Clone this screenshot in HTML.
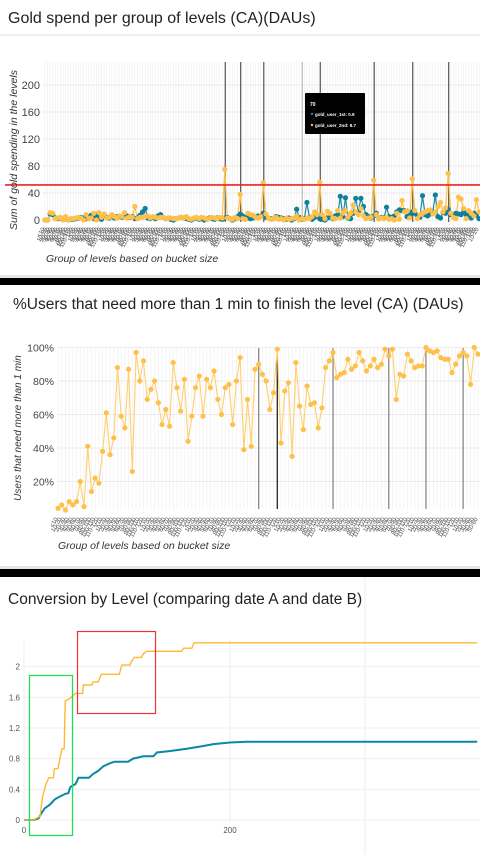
<!DOCTYPE html>
<html><head><meta charset="utf-8"><style>
html,body{margin:0;padding:0;background:#000;}
svg{display:block;font-family:"Liberation Sans",sans-serif;}
</style></head><body>
<svg id="root" width="480" height="854" viewBox="0 0 480 854">
  <!-- panel backgrounds -->
  <rect x="0" y="0" width="480" height="277" fill="#fff"/>
  <rect x="0" y="275" width="480" height="3" fill="#e6e6e6"/>
  <rect x="0" y="285" width="480" height="283" fill="#fff"/>
  <rect x="0" y="566" width="480" height="3" fill="#e6e6e6"/>
  <rect x="0" y="577" width="480" height="277" fill="#fff"/>
  <line x1="0" y1="35" x2="480" y2="35" stroke="#eee" stroke-width="2"/>
  <line x1="365" y1="577" x2="365" y2="854" stroke="#eee" stroke-width="1"/>

  <text x="8" y="23" font-size="16" fill="#222">Gold spend per group of levels (CA)(DAUs)</text>
  <text x="13" y="309" font-size="15.5" fill="#222">%Users that need more than 1 min to finish the level (CA) (DAUs)</text>
  <text x="8" y="604" font-size="15.5" fill="#222">Conversion by Level (comparing date A and date B)</text>

  <g id="c1"></g>
  <g id="c2"></g>
  <g id="c3"></g>
</svg>
<script>
const NS="http://www.w3.org/2000/svg";
// ---------- Chart 1 data ----------
const goldYTicks=[0,40,80,120,160,200];
const goldUser2nd=[0,0,11,10,2,3,4,0,5,0,2,2,3,4,3,0,8,2,3,10,
0,11,4,9,3,4,8,5,3,6,5,11,3,5,4,20,2,4,4,5,
6,3,5,4,3,4,4,2,3,3,2,2,3,4,3,5,2,1,3,4,
2,4,3,1,2,4,3,2,4,3,
75,3,2,1,4,2,38,2,1,10,8,7,4,3,5,55,
9,3,1,2,4,1,2,0,3,1,2,3,6,0,2,1,3,2,5,12,8,
56,8,2,13,10,3,2,14,3,10,14,4,10,22,12,8,17,6,2,3,4,
59,8,2,3,2,4,1,2,0,10,1,29,12,14,3,
61,14,2,8,10,12,14,15,9,12,20,26,12,18,
69,10,4,2,34,31,17,2,14,10,6,30,12];
const goldUser1st=[0,0,9,8,3,2,3,1,2,0,1,1,2,3,4,3,2,5,7,2,
8,3,1,6,4,3,7,3,5,5,4,8,6,4,5,2,3,7,12,17,
3,2,4,2,6,8,4,2,3,1,0,2,3,4,3,2,1,0,2,3,
1,2,0,1,3,2,1,3,2,1,3,4,2,0,2,5,9,6,4,3,
2,3,4,6,5,10,4,3,2,2,5,4,3,2,1,3,0,2,16,4,
1,2,26,3,1,4,6,2,1,0,3,4,2,6,8,35,5,33,3,2,
10,32,12,32,20,8,5,3,6,10,2,4,3,19,5,4,6,12,15,14,
14,5,7,12,10,6,4,36,8,6,9,12,37,5,3,11,10,16,8,6,
10,9,8,12,8,6,3,10,7,2];
const goldThreshold=[52];
const goldMarkers=[70,76,85,100,107,128,143,157];
// ---------- Chart 2 data ----------
const pctYTicks=[20,40,60,80,100];
const pctUsers=[4,6,3,8,6,8,20,5,41,14,22,19,38,61,36,46,88,59,52,87,
26,97,80,92,69,75,80,67,54,63,53,91,76,62,81,44,59,76,83,59,
81,76,86,69,60,76,78,54,80,94,39,69,41,87,90,84,80,63,73,99,
43,74,79,35,91,65,51,77,66,67,52,64,88,92,97,82,84,85,93,87,
89,97,92,86,89,93,88,90,99,95,99,69,84,83,96,92,88,89,89,100,
98,97,98,94,93,93,85,90,95,97,95,78,100,96];
const pctMarkers=[54,59,74,89,99,109];
// ---------- Chart 3 data ----------
const convYTicks=[0,0.4,0.8,1.2,1.6,2];
const convXTicks=[0,200];
const dateBLevels=[0,9,15.5,18,21,24,28.5,29.5,33,36,37,39,40,44,46,50,57,57.6,66,67,72,75,92.5,95,103,104,107,114,116,119,153,155,163,165,440];
const dateBValues=[0,0,0.05,0.3,0.45,0.55,0.55,0.67,0.67,0.88,0.93,0.93,1.55,1.58,1.6,1.65,1.65,1.76,1.76,1.8,1.8,1.9,1.9,2.02,2.02,2.06,2.12,2.12,2.17,2.2,2.2,2.24,2.24,2.31,2.31];
const dateALevels=[0,9,14,16.5,20,25,30,34,40,43,45,50,53,63,67,72,77,83.5,88,101,106,116,125.6,129,142,158,172,184,200,216,440];
const dateAValues=[0,0,0.02,0.08,0.15,0.2,0.27,0.3,0.34,0.35,0.43,0.47,0.55,0.55,0.6,0.64,0.7,0.74,0.76,0.76,0.8,0.83,0.83,0.88,0.9,0.93,0.96,0.99,1.01,1.02,1.02];

function mk(parent,tag,attrs,text){const e=document.createElementNS(NS,tag);for(const k in attrs)e.setAttribute(k,attrs[k]);if(text!==undefined)e.textContent=text;parent.appendChild(e);return e;}
function poly(xs,ys){return xs.map((x,i)=>x.toFixed(1)+","+ys[i].toFixed(1)).join(" ");}
const bucketNames=["<10","10-20","20-30","30-40","40-50","50-60","60-70","70-80","80-90","90-100","100-110","110-120"];

// ===== Chart 1 =====
(function(){
  const g=document.getElementById('c1');
  const y=v=>220-v*0.675, x0=45, x1=479;
  const x=i=>x0+i*(x1-x0)/(goldUser2nd.length-1);
  for(let i=0;i<goldUser2nd.length;i++){const l=mk(g,'line',{x1:x(i),x2:x(i),y1:62,y2:222,stroke:'#f2f2f2','stroke-width':0.8});
    
    }
  goldYTicks.forEach(v=>{const l=mk(g,'line',{x1:x0-3,x2:480,y1:y(v),y2:y(v),stroke:'#ebebeb','stroke-width':1});
    
    
    const t=mk(g,'text',{x:40,y:y(v)+4,'font-size':11,fill:'#444','text-anchor':'end'},String(v));
    
    });
  goldMarkers.forEach((i,k)=>{const l=mk(g,'line',{x1:x(i)+0.5,x2:x(i)+0.5,y1:62,y2:222,stroke:k==3?'#bbb':'#555','stroke-width':1.2});
    
    });
  const b=mk(g,'polyline',{points:poly(goldUser1st.map((_,i)=>x(i)),goldUser1st.map(y)),fill:'none',stroke:'#1a8aa8','stroke-width':1.2});
  
  
  const o=mk(g,'polyline',{points:poly(goldUser2nd.map((_,i)=>x(i)),goldUser2nd.map(y)),fill:'none',stroke:'#ffc247','stroke-width':1.2});
  
  
  goldUser1st.forEach((v,i)=>{const c=mk(g,'circle',{cx:x(i),cy:y(v),r:2.6,fill:'#0f7f9c'});
    
    });
  goldUser2nd.forEach((v,i)=>{const c=mk(g,'circle',{cx:x(i),cy:y(v),r:2.6,fill:'#ffc04a'});
    
    });
  const r=mk(g,'line',{x1:5,x2:480,y1:y(goldThreshold[0]),y2:y(goldThreshold[0]),stroke:'#ee2222','stroke-width':1.6});
  
  
  for(let i=0;i<goldUser2nd.length;i++){const t=mk(g,'text',{x:x(i),y:229,'font-size':6,fill:'#555','text-anchor':'end',transform:`rotate(-60 ${x(i)} 229)`},bucketNames[i%12]);
    
    }
  const yt=mk(g,'text',{x:0,y:0,'font-size':10.5,fill:'#333','font-style':'italic','text-anchor':'middle',transform:'translate(17 150) rotate(-90)'},'Sum of gold spending in the levels');
  
  
  const xt=mk(g,'text',{x:46,y:262,'font-size':10.5,fill:'#333','font-style':'italic'},'Group of levels based on bucket size');
  
  
  const tip=mk(g,'g',{});
  
  
  mk(tip,'rect',{x:305,y:93,width:60,height:41,fill:'#000',rx:1});
  mk(tip,'text',{x:310,y:106,'font-size':5,fill:'#fff','font-weight':'bold'},'70');
  mk(tip,'circle',{cx:312,cy:114,r:1.2,fill:'#1a8aa8'});
  mk(tip,'text',{x:315,y:116,'font-size':4.5,fill:'#fff','font-weight':'bold'},'gold_user_1st:  0.9');
  mk(tip,'circle',{cx:312,cy:125,r:1.2,fill:'#ffc04a'});
  mk(tip,'text',{x:315,y:127,'font-size':4.5,fill:'#fff','font-weight':'bold'},'gold_user_2nd: 8.7');
})();

// ===== Chart 2 =====
(function(){
  const g=document.getElementById('c2');
  const y=v=>515-v*1.675, x0=58, x1=478;
  const x=i=>x0+i*(x1-x0)/(pctUsers.length-1);
  for(let i=0;i<pctUsers.length;i++){const l=mk(g,'line',{x1:x(i),x2:x(i),y1:348,y2:509,stroke:'#f2f2f2','stroke-width':0.8});
    
    }
  pctYTicks.forEach(v=>{const l=mk(g,'line',{x1:x0,x2:480,y1:y(v),y2:y(v),stroke:'#ebebeb','stroke-width':1});
    
    
    const t=mk(g,'text',{x:54,y:y(v)+4,'font-size':10.5,fill:'#444','text-anchor':'end'},v+'%');
    
    });
  pctMarkers.forEach((i,k)=>{const l=mk(g,'line',{x1:x(i),x2:x(i),y1:348,y2:509,stroke:k==1?'#222':'#888','stroke-width':1.3});
    
    });
  const o=mk(g,'polyline',{points:poly(pctUsers.map((_,i)=>x(i)),pctUsers.map(y)),fill:'none',stroke:'#ffcf6e','stroke-width':1.1});
  
  
  pctUsers.forEach((v,i)=>{const c=mk(g,'circle',{cx:x(i),cy:y(v),r:2.6,fill:'#ffc04a'});
    
    });
  for(let i=0;i<pctUsers.length;i++){const t=mk(g,'text',{x:x(i),y:519,'font-size':6,fill:'#555','text-anchor':'end',transform:`rotate(-60 ${x(i)} 519)`},bucketNames[i%12]);
    
    }
  const yt=mk(g,'text',{x:0,y:0,'font-size':10,fill:'#333','font-style':'italic','text-anchor':'middle',transform:'translate(21 428) rotate(-90)'},'Users that need more than 1 min');
  
  
  const xt=mk(g,'text',{x:58,y:549,'font-size':10.5,fill:'#333','font-style':'italic'},'Group of levels based on bucket size');
  
  
})();

// ===== Chart 3 =====
(function(){
  const g=document.getElementById('c3');
  const y=v=>820-v*76.7, x=l=>24+l*1.03;
  convYTicks.forEach(v=>{const l=mk(g,'line',{x1:24,x2:480,y1:y(v),y2:y(v),stroke:'#f0f0f0','stroke-width':1});
    
    
    const t=mk(g,'text',{x:20,y:y(v)+3,'font-size':8,fill:'#555','text-anchor':'end'},String(v));
    
    });
  convXTicks.forEach(v=>{if(v>0){const l=mk(g,'line',{x1:x(v),x2:x(v),y1:640,y2:822,stroke:'#eee','stroke-width':1});
    
    }
    const t=mk(g,'text',{x:x(v),y:833,'font-size':8,fill:'#555','text-anchor':'middle'},String(v));
    
    });
  const ax=mk(g,'line',{x1:24,x2:24,y1:640,y2:822,stroke:'#eee','stroke-width':1});
  
  
  const a=mk(g,'polyline',{points:poly(dateALevels.map(x),dateAValues.map(y)),fill:'none',stroke:'#0a87a6','stroke-width':2});
  
  
  const b=mk(g,'polyline',{points:poly(dateBLevels.map(x),dateBValues.map(y)),fill:'none',stroke:'#ffb833','stroke-width':1.4});
  
  
  const gr=mk(g,'rect',{x:29.5,y:675.5,width:43,height:160,fill:'none',stroke:'#22e055','stroke-width':1.3});
  
  
  const rr=mk(g,'rect',{x:77.5,y:631.5,width:78,height:82,fill:'none',stroke:'#ee3333','stroke-width':1.2});
  
  
})();
</script>
</body></html>
